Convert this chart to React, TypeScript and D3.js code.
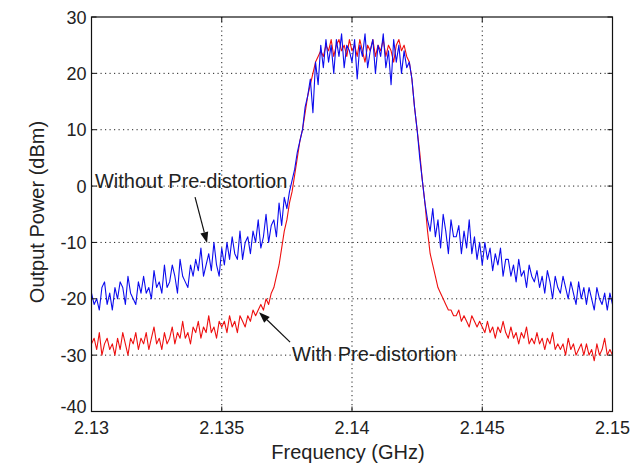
import React from "react";
import * as d3 from "d3";

// Frequency grid (GHz)
const freqStart = 2.13;
const freqStep = 0.0001;

// Output power without pre-distortion (dBm), 201 samples 2.130 .. 2.150
const withoutPD: number[] = [
  -19, -21, -20, -22, -18, -17, -21, -19, -22, -18,
  -20, -17, -18, -21, -16, -19, -20, -21, -17, -19,
  -16, -19, -18, -20, -15, -18, -17, -19, -14, -18,
  -17, -14, -16, -19, -13, -16, -17, -18, -14, -16,
  -13, -15, -11, -16, -14, -12, -15, -10, -14, -16,
  -11, -14, -10, -13, -9, -12, -13, -8, -13, -10,
  -9, -12, -8, -10, -6, -11, -9, -5, -10, -7,
  -6, -9, -3, -7, -2, -4, -1, 1, 3, 6,
  8, 10, 14, 16, 19, 13, 22, 18, 25, 21,
  26, 22, 25, 20, 26, 23, 27, 21, 25, 24,
  22, 26, 19, 25, 23, 27, 21, 24, 26, 20,
  25, 23, 27, 21, 24, 18, 26, 22, 25, 20,
  24, 21, 22, 19, 14, 10, 5, 1, -3, -6,
  -8, -4, -9, -6, -11, -5, -8, -12, -6, -9,
  -9, -7, -12, -8, -11, -6, -12, -9, -13, -10,
  -14, -10, -13, -11, -15, -12, -14, -11, -16, -13,
  -13, -16, -14, -17, -13, -16, -15, -18, -14, -16,
  -17, -15, -18, -16, -19, -15, -17, -20, -16, -18,
  -19, -16, -18, -20, -17, -19, -21, -17, -20, -18,
  -21, -18, -20, -22, -18, -20, -21, -19, -22, -19, -21,
];

// Output power with pre-distortion (dBm), 201 samples 2.130 .. 2.150
const withPD: number[] = [
  -28, -27, -29, -26, -30, -28, -27, -29, -28, -30,
  -27, -29, -26, -28, -30, -27, -28, -26, -29, -27,
  -28, -26, -29, -27, -25, -28, -27, -29, -26, -28,
  -27, -25, -28, -26, -27, -24, -27, -26, -28, -25,
  -26, -24, -27, -25, -26, -23, -26, -25, -27, -24,
  -25, -24, -26, -23, -25, -24, -26, -23, -24, -25,
  -23, -24, -22, -23, -22, -21, -22, -20, -21, -19,
  -18, -16, -14, -11, -8, -6, -3, -1, 2, 5,
  8, 10, 13, 16, 18, 20, 22, 23, 24, 23,
  25, 24, 26, 23, 25, 26, 24, 25, 23, 26,
  24, 25, 23, 26, 24, 22, 25, 24, 26, 23,
  25, 24, 26, 23, 25, 24, 22, 25, 26, 24,
  25, 23, 22, 19, 14, 10, 6, 1, -3, -8,
  -12, -14, -16, -18, -19, -20, -21, -22, -22, -23,
  -23, -22, -24, -23, -24, -25, -23, -24, -25, -24,
  -25, -26, -24, -26, -25, -27, -25, -26, -24, -26,
  -27, -25, -27, -26, -28, -26, -27, -25, -28, -27,
  -28, -26, -28, -27, -29, -27, -28, -26, -29, -28,
  -29, -28, -30, -27, -29, -28, -30, -29, -28, -30,
  -28, -30, -29, -31, -28, -30, -29, -27, -30, -29, -30,
];

const xTicks = [2.13, 2.135, 2.14, 2.145, 2.15];
const xTickLabels = ["2.13", "2.135", "2.14", "2.145", "2.15"];
const yTicks = [-40, -30, -20, -10, 0, 10, 20, 30];
const yTickLabels = ["-40", "-30", "-20", "-10", "0", "10", "20", "30"];

const xTitle = "Frequency (GHz)";
const yTitle = "Output Power (dBm)";

const annotWithout = { label: "Without Pre-distortion", tx: 2.130134, ty: -0.36, ax0: 2.133975, ay0: -1.95, ax1: 2.134436, ay1: -10.12 };
const annotWith = { label: "With Pre-distortion", tx: 2.1377, ty: -31.07, ax0: 2.137623, ay0: -27.7, ax1: 2.136432, ay1: -22.37 };

const W = 631;
const H = 466;
const L = 91.5, R = 612.5, T = 17, B = 411.5;
const FONT = "'Liberation Sans', Arial, Helvetica, sans-serif";

function Arrow({ x0, y0, x1, y1 }: { x0: number; y0: number; x1: number; y1: number }) {
  const ang = Math.atan2(y1 - y0, x1 - x0);
  const len = 11, half = 4;
  const bx = x1 - len * Math.cos(ang), by = y1 - len * Math.sin(ang);
  const px = -Math.sin(ang) * half, py = Math.cos(ang) * half;
  return (
    <g>
      <line x1={x0} y1={y0} x2={bx} y2={by} stroke="#111" strokeWidth={1.2} />
      <polygon points={`${x1},${y1} ${bx + px},${by + py} ${bx - px},${by - py}`} fill="#111" />
    </g>
  );
}

export default function App() {
  const x = d3.scaleLinear().domain([2.13, 2.15]).range([L, R]);
  const y = d3.scaleLinear().domain([-40, 30]).range([B, T]);
  const line = d3
    .line<number>()
    .x((_, i) => x(freqStart + i * freqStep))
    .y((d) => y(d));

  return (
    <svg width={W} height={H} style={{ position: "absolute", left: 0, top: 0, background: "#fff" }} fontFamily={FONT}>
      <rect x={0} y={0} width={W} height={H} fill="#fff" />
      <defs>
        <clipPath id="plot">
          <rect x={L} y={T} width={R - L} height={B - T} />
        </clipPath>
      </defs>
      {/* grid */}
      {xTicks.slice(1, -1).map((t) => (
        <line key={"gx" + t} x1={x(t)} x2={x(t)} y1={T} y2={B} stroke="#222" strokeWidth={1} strokeDasharray="1.2,3.3" />
      ))}
      {yTicks.slice(1, -1).map((t) => (
        <line key={"gy" + t} x1={L} x2={R} y1={y(t)} y2={y(t)} stroke="#222" strokeWidth={1} strokeDasharray="1.2,3.3" />
      ))}
      {/* data */}
      <g clipPath="url(#plot)">
        <path d={line(withPD) || ""} fill="none" stroke="#ee1010" strokeWidth={1.1} strokeLinejoin="round" />
        <path d={line(withoutPD) || ""} fill="none" stroke="#0c0cee" strokeWidth={1.1} strokeLinejoin="round" />
      </g>
      {/* frame */}
      <rect x={L} y={T} width={R - L} height={B - T} fill="none" stroke="#111" strokeWidth={1.2} />
      {/* ticks */}
      {xTicks.map((t) => (
        <g key={"tx" + t}>
          <line x1={x(t)} x2={x(t)} y1={B} y2={B - 5} stroke="#111" />
          <line x1={x(t)} x2={x(t)} y1={T} y2={T + 5} stroke="#111" />
        </g>
      ))}
      {yTicks.map((t) => (
        <g key={"ty" + t}>
          <line x1={L} x2={L + 5} y1={y(t)} y2={y(t)} stroke="#111" />
          <line x1={R} x2={R - 5} y1={y(t)} y2={y(t)} stroke="#111" />
        </g>
      ))}
      {/* tick labels */}
      {xTicks.map((t, i) => (
        <text key={"lx" + t} x={x(t)} y={B + 22} textAnchor="middle" fontSize={18} fill="#222">
          {xTickLabels[i]}
        </text>
      ))}
      {yTicks.map((t, i) => (
        <text key={"ly" + t} x={L - 5} y={y(t) + (t === -40 ? 1.5 : 6.5)} textAnchor="end" fontSize={18} fill="#222">
          {yTickLabels[i]}
        </text>
      ))}
      {/* axis titles */}
      <text x={348} y={459} textAnchor="middle" fontSize={20} fill="#222">
        {xTitle}
      </text>
      <text transform="translate(44,212) rotate(-90)" textAnchor="middle" fontSize={20} fill="#222">
        {yTitle}
      </text>
      {/* annotations */}
      <text x={x(annotWithout.tx)} y={y(annotWithout.ty)} fontSize={20} fill="#222">
        {annotWithout.label}
      </text>
      <Arrow x0={x(annotWithout.ax0)} y0={y(annotWithout.ay0)} x1={x(annotWithout.ax1)} y1={y(annotWithout.ay1)} />
      <text x={x(annotWith.tx)} y={y(annotWith.ty)} fontSize={20} fill="#222">
        {annotWith.label}
      </text>
      <Arrow x0={x(annotWith.ax0)} y0={y(annotWith.ay0)} x1={x(annotWith.ax1)} y1={y(annotWith.ay1)} />
    </svg>
  );
}
